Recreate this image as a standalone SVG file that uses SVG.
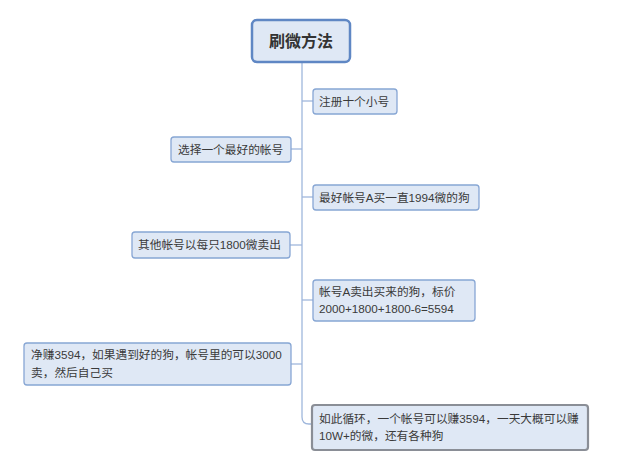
<svg xmlns="http://www.w3.org/2000/svg" width="619" height="467" viewBox="0 0 619 467">
<style>
.n{fill:#dfe8f5;stroke:#87a6d4;stroke-width:1.3}
.t{font-family:"Liberation Sans","Noto Sans CJK SC",sans-serif;font-size:11.7px;fill:#3a3a3a}
.c{fill:none;stroke:#9fb7dc;stroke-width:1.3}
</style>
<rect width="619" height="467" fill="#ffffff"/>
<g id="connectors">
<path class="c" d="M302 63 V417 Q302 424 309 424 H312"/>
<path class="c" d="M302 101 H313"/>
<path class="c" d="M291 149 H302"/>
<path class="c" d="M302 197 H313"/>
<path class="c" d="M290 245 H302"/>
<path class="c" d="M302 300 H313"/>
<path class="c" d="M291 364 H302"/>
</g>
<g id="root">
<rect x="252" y="20" width="98" height="42" rx="5" fill="#dfe8f5" stroke="#5f87c4" stroke-width="2.5"/>
<text x="301" y="47" text-anchor="middle" font-family="'Noto Sans CJK SC',sans-serif" font-size="16" font-weight="bold" fill="#333">刷微方法</text>
</g>
<g id="n1">
<rect class="n" x="313" y="89" width="84" height="25" rx="3"/>
<text class="t" x="319" y="105.5">注册十个小号</text>
</g>
<g id="n2">
<rect class="n" x="171" y="137" width="120" height="25" rx="3"/>
<text class="t" x="178" y="153.5">选择一个最好的帐号</text>
</g>
<g id="n3">
<rect class="n" x="313" y="185" width="166" height="25" rx="3"/>
<text class="t" x="319" y="201.5">最好帐号A买一直1994微的狗</text>
</g>
<g id="n4">
<rect class="n" x="132" y="232" width="158" height="26" rx="3"/>
<text class="t" x="138" y="249">其他帐号以每只1800微卖出</text>
</g>
<g id="n5">
<rect class="n" x="313" y="280" width="162" height="41" rx="3"/>
<text class="t" x="319" y="296">帐号A卖出买来的狗，标价</text>
<text class="t" x="319" y="313">2000+1800+1800-6=5594</text>
</g>
<g id="n6">
<rect class="n" x="24" y="343" width="267" height="42" rx="3"/>
<text class="t" x="31" y="359">净赚3594，如果遇到好的狗，帐号里的可以3000</text>
<text class="t" x="31" y="377">卖，然后自己买</text>
</g>
<g id="n7">
<rect x="312" y="405" width="276" height="45" rx="3" fill="#dfe8f5" stroke="#8a8e96" stroke-width="2.2"/>
<text class="t" x="319" y="423">如此循环，一个帐号可以赚3594，一天大概可以赚</text>
<text class="t" x="319" y="440">10W+的微，还有各种狗</text>
</g>
</svg>
